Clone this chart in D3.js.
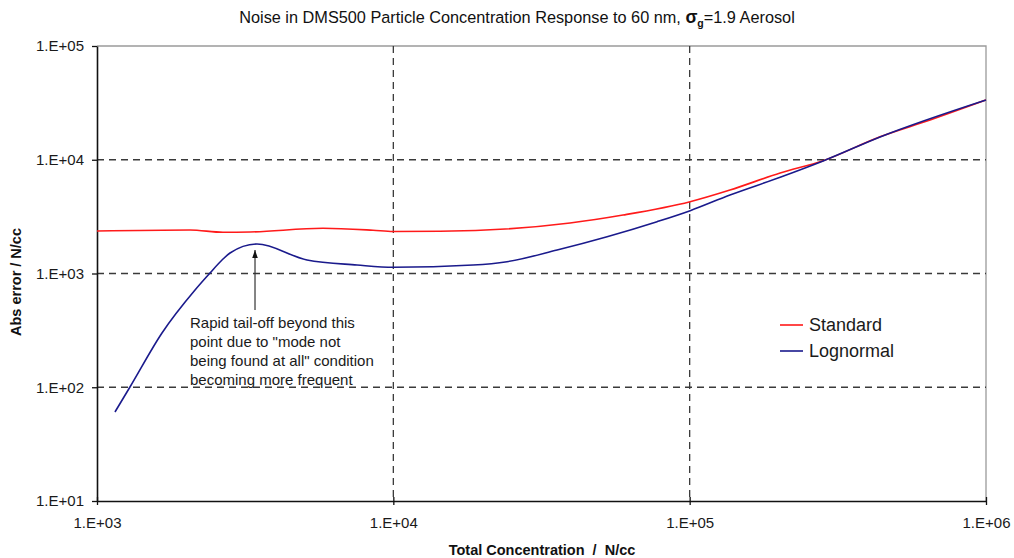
<!DOCTYPE html>
<html>
<head>
<meta charset="utf-8">
<script src="https://cdn.jsdelivr.net/npm/d3@7"></script>
<style>
  html, body { margin: 0; padding: 0; background: #fff; }
  svg { display: block; font-family: Arial, "Liberation Sans", sans-serif; }
</style>
</head>
<body>
<svg id="chart" width="1014" height="558"></svg>
<script>
// Total concentration (N/cc) and absolute error (N/cc) for each fitting method
const standardConc = [1000, 2060, 2662, 3284, 5790, 8541, 10000, 14380, 39480, 59600, 100300, 136800, 202000, 282000, 439000, 647600, 1000000];
const standardErr  = [2364, 2413, 2302, 2316, 2497, 2399, 2340, 2350, 2780, 3268, 4278, 5420, 7646, 9809, 15940, 22360, 33520];

const lognormalConc = [1150, 1292, 1657, 2142, 2406, 2642, 2811, 3467, 5113, 7542, 10000, 18580, 24190, 35690, 52640, 77620, 100400, 136800, 202000, 282000, 439000, 1000000];
const lognormalErr  = [60.6, 100.5, 300, 716, 1010, 1314, 1514, 1816, 1314, 1188, 1134, 1188, 1270, 1609, 2106, 2854, 3566, 4898, 7011, 9750, 15850, 33520];

const xTicks = [1e3, 1e4, 1e5, 1e6];
const yTicks = [1e1, 1e2, 1e3, 1e4, 1e5];
const xTickLabels = ["1.E+03", "1.E+04", "1.E+05", "1.E+06"];
const yTickLabels = ["1.E+01", "1.E+02", "1.E+03", "1.E+04", "1.E+05"];

const seriesNames = ["Standard", "Lognormal"];
const seriesColors = ["#ff1a1a", "#1a1a8c"];

const annotationLines = [
  "Rapid tail-off beyond this",
  "point due to \"mode not",
  "being found at all\" condition",
  "becoming more frequent"
];
const annotationPoint = [3467, 1816];

const svg = d3.select("#chart");
const plot = { left: 97, right: 986, top: 46, bottom: 501 };

const x = d3.scaleLog().domain([1e3, 1e6]).range([plot.left, plot.right]);
const y = d3.scaleLog().domain([1e1, 1e5]).range([plot.bottom, plot.top]);

// Plot-area border (top and right edges)
svg.append("path")
  .attr("d", `M${plot.left},${plot.top}H${plot.right}V${plot.bottom}`)
  .attr("fill", "none").attr("stroke", "#9a9a9a").attr("stroke-width", 1.3);

// Dashed grid at interior decades
const grid = svg.append("g").attr("stroke", "#3a3a3a").attr("stroke-width", 1.3)
  .attr("stroke-dasharray", "7,5");
xTicks.filter(d => d > 1e3 && d < 1e6).forEach(d => {
  grid.append("line").attr("x1", x(d)).attr("x2", x(d))
    .attr("y1", plot.top).attr("y2", plot.bottom);
});
yTicks.filter(d => d > 1e1 && d < 1e5).forEach(d => {
  grid.append("line").attr("x1", plot.left).attr("x2", plot.right)
    .attr("y1", y(d)).attr("y2", y(d));
});

// Axes
const xAxis = d3.axisBottom(x).tickValues(xTicks)
  .tickFormat((d, i) => xTickLabels[i]).tickSize(0).tickPadding(16);
const yAxis = d3.axisLeft(y).tickValues(yTicks)
  .tickFormat((d, i) => yTickLabels[i]).tickSizeInner(5).tickSizeOuter(0).tickPadding(8);

const gx = svg.append("g").attr("transform", `translate(0,${plot.bottom})`).call(xAxis);
const gy = svg.append("g").attr("transform", `translate(${plot.left},0)`).call(yAxis);

[gx, gy].forEach(g => {
  g.select(".domain").attr("stroke", "#111").attr("stroke-width", 1.6);
  g.selectAll(".tick line").attr("stroke", "#111").attr("stroke-width", 1.3);
  g.selectAll(".tick text").attr("fill", "#1a1a1a")
    .style("font-size", "15px").style("font-family", "Arial, 'Liberation Sans', sans-serif");
});
// x ticks cross the axis line
gx.selectAll(".tick").append("line")
  .attr("y1", -4).attr("y2", 4).attr("stroke", "#111").attr("stroke-width", 1.3);

// Series lines
const line = d3.line()
  .x(d => x(d[0])).y(d => y(d[1]))
  .curve(d3.curveMonotoneX);

const seriesData = [
  d3.zip(standardConc, standardErr),
  d3.zip(lognormalConc, lognormalErr)
];
seriesData.forEach((data, i) => {
  svg.append("path").datum(data)
    .attr("d", line)
    .attr("fill", "none")
    .attr("stroke", seriesColors[i])
    .attr("stroke-width", 1.6)
    .attr("stroke-linejoin", "round");
});

// Annotation arrow and text
const ax = x(annotationPoint[0]) - 2;
const ay = y(annotationPoint[1]) + 6;
svg.append("defs").append("marker")
  .attr("id", "arrowhead").attr("viewBox", "0 0 10 10")
  .attr("refX", 10).attr("refY", 5)
  .attr("markerWidth", 7).attr("markerHeight", 7)
  .attr("orient", "auto")
  .append("path").attr("d", "M0,1.5L10,5L0,8.5Z").attr("fill", "#111");
svg.append("line")
  .attr("x1", ax).attr("y1", 310).attr("x2", ax).attr("y2", ay)
  .attr("stroke", "#333").attr("stroke-width", 1.2)
  .attr("marker-end", "url(#arrowhead)");

const ann = svg.append("text").attr("x", 190).attr("y", 328)
  .attr("fill", "#1a1a1a").style("font-size", "15px");
annotationLines.forEach((t, i) => {
  ann.append("tspan").attr("x", 190).attr("dy", i === 0 ? 0 : 19).text(t);
});

// Legend
const legend = svg.append("g").attr("transform", "translate(780,325)");
seriesNames.forEach((name, i) => {
  const g = legend.append("g").attr("transform", `translate(0,${i * 26})`);
  g.append("line").attr("x1", 0).attr("x2", 23).attr("y1", 0).attr("y2", 0)
    .attr("stroke", seriesColors[i]).attr("stroke-width", 1.6);
  g.append("text").attr("x", 29).attr("y", 6)
    .attr("fill", "#1a1a1a").style("font-size", "18px").text(name);
});

// Title
const title = svg.append("text").attr("x", 517).attr("y", 23)
  .attr("text-anchor", "middle").attr("fill", "#111")
  .style("font-size", "16.3px");
title.append("tspan").text("Noise in DMS500 Particle Concentration Response to 60 nm, ");
title.append("tspan").style("font-weight", "bold").style("font-size", "17.5px").text("σ");
title.append("tspan").style("font-weight", "bold").style("font-size", "10.5px").attr("dy", 4).text("g");
title.append("tspan").attr("dy", -4).text("=1.9 Aerosol");

// Axis titles
svg.append("text").attr("x", 542).attr("y", 555)
  .attr("text-anchor", "middle").attr("fill", "#111")
  .style("font-size", "14.5px").style("font-weight", "bold")
  .attr("xml:space", "preserve")
  .text("Total Concentration  /  N/cc");

svg.append("text")
  .attr("transform", "translate(21,282) rotate(-90)")
  .attr("text-anchor", "middle").attr("fill", "#111")
  .style("font-size", "14.5px").style("font-weight", "bold")
  .text("Abs error / N/cc");
</script>
</body>
</html>
